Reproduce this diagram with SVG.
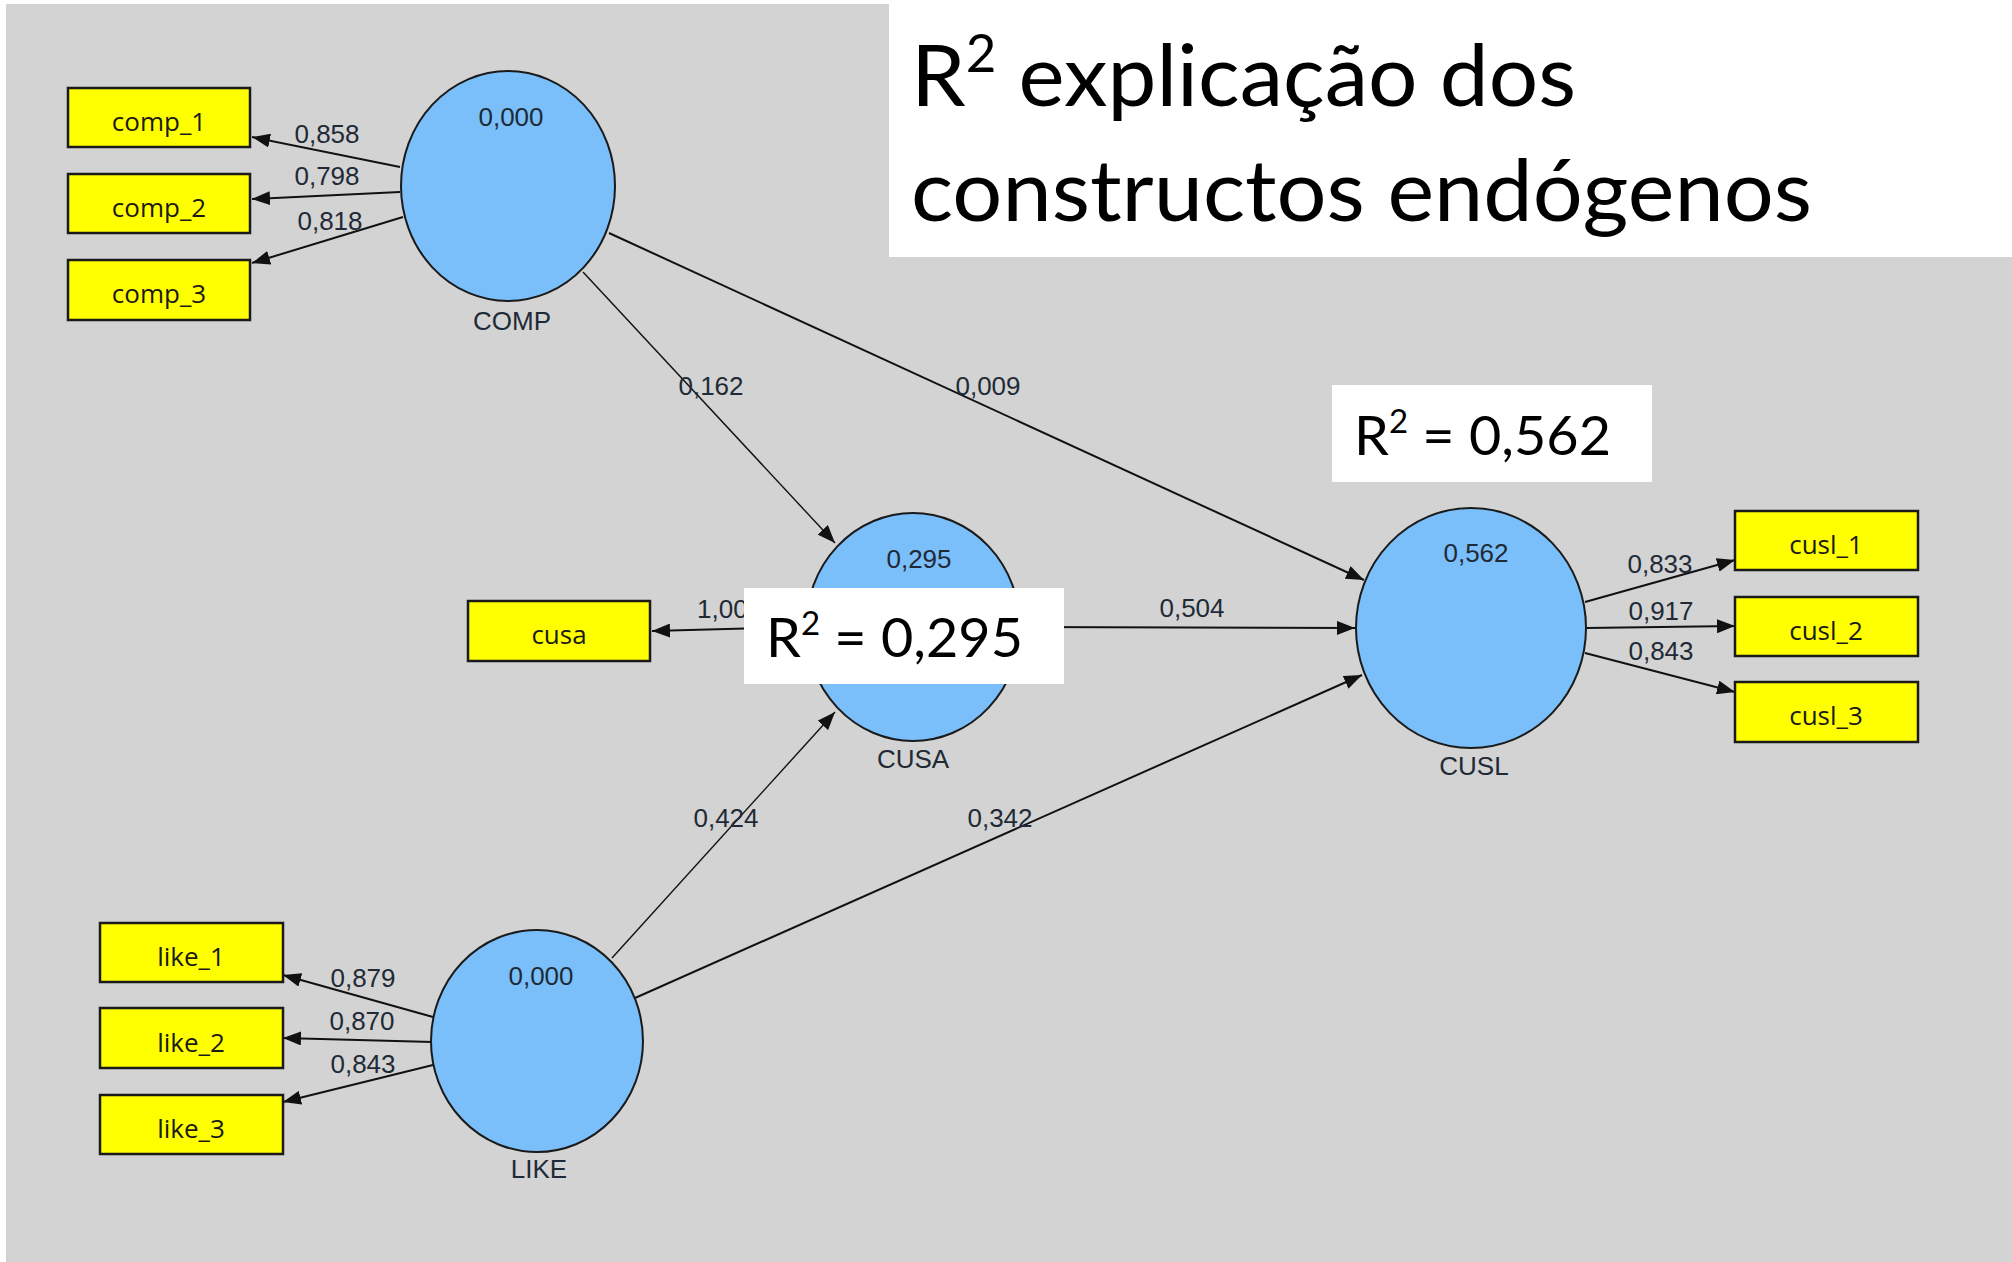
<svg xmlns="http://www.w3.org/2000/svg" width="2012" height="1262" viewBox="0 0 2012 1262">
<defs>
<marker id="ah" markerUnits="userSpaceOnUse" markerWidth="20" markerHeight="14" refX="18" refY="7" orient="auto">
<path d="M0,0 L18,7 L0,14 Z" fill="#111"/>
</marker>
<style>
.lat{fill:#7abffa;stroke:#1a1a1a;stroke-width:2}
.ind{fill:#ffff00;stroke:#1a1a1a;stroke-width:2.5}
.itx{font-family:"Open Sans","Noto Sans",sans-serif;font-size:26px;fill:#1a1a1a;text-anchor:middle}
.num{font-family:"Liberation Sans",Arial,sans-serif;font-size:26px;fill:#1f2a36;text-anchor:middle}
.lbl{font-family:"Liberation Sans",Arial,sans-serif;font-size:26px;fill:#1f2a36;text-anchor:middle}
.c{stroke:#111;stroke-width:2;fill:none;marker-end:url(#ah)}
.thin{stroke-width:1.4}
.r2{font-family:Lato,"Open Sans",sans-serif;fill:#000}
</style>
</defs>
<rect x="0" y="0" width="2012" height="1262" fill="#ffffff"/>
<rect x="6" y="4" width="2006" height="1258" fill="#d3d3d3"/>

<g id="connectors">
<line class="c" x1="400" y1="167" x2="252" y2="137"/>
<line class="c" x1="400" y1="192" x2="252" y2="199"/>
<line class="c" x1="403" y1="217" x2="252" y2="263"/>
<line class="c thin" x1="583" y1="272" x2="835" y2="543"/>
<line class="c" x1="609" y1="233" x2="1364" y2="580"/>
<line class="c" x1="806" y1="627" x2="652" y2="631"/>
<line class="c" x1="1020" y1="627" x2="1355" y2="628"/>
<line class="c thin" x1="612" y1="958" x2="835" y2="712"/>
<line class="c" x1="635" y1="998" x2="1362" y2="675"/>
<line class="c" x1="1585" y1="602" x2="1735" y2="560"/>
<line class="c" x1="1586" y1="628" x2="1735" y2="626"/>
<line class="c" x1="1585" y1="653" x2="1735" y2="692"/>
<line class="c" x1="433" y1="1017" x2="283" y2="975"/>
<line class="c" x1="433" y1="1042" x2="283" y2="1038"/>
<line class="c" x1="433" y1="1065" x2="283" y2="1102"/>
<text class="lbl" x="327" y="143">0,858</text>
<text class="lbl" x="327" y="185">0,798</text>
<text class="lbl" x="330" y="230">0,818</text>
<text class="lbl" x="711" y="395">0,162</text>
<text class="lbl" x="988" y="395">0,009</text>
<text class="lbl" x="1192" y="617">0,504</text>
<text class="lbl" x="726" y="827">0,424</text>
<text class="lbl" x="1000" y="827">0,342</text>
<text class="lbl" x="1660" y="573">0,833</text>
<text class="lbl" x="1661" y="620">0,917</text>
<text class="lbl" x="1661" y="660">0,843</text>
<text class="lbl" x="363" y="987">0,879</text>
<text class="lbl" x="362" y="1030">0,870</text>
<text class="lbl" x="363" y="1073">0,843</text>
<text class="lbl" x="697" y="618" style="text-anchor:start">1,00</text>
</g>

<g id="comp_1"><rect class="ind" x="68" y="88" width="182" height="59"/><text class="itx" x="159" y="131">comp_1</text></g>
<g id="comp_2"><rect class="ind" x="68" y="174" width="182" height="59"/><text class="itx" x="159" y="217">comp_2</text></g>
<g id="comp_3"><rect class="ind" x="68" y="260" width="182" height="60"/><text class="itx" x="159" y="303">comp_3</text></g>
<g id="cusa"><rect class="ind" x="468" y="601" width="182" height="60"/><text class="itx" x="559" y="644">cusa</text></g>
<g id="cusl_1"><rect class="ind" x="1735" y="511" width="183" height="59"/><text class="itx" x="1826" y="554">cusl_1</text></g>
<g id="cusl_2"><rect class="ind" x="1735" y="597" width="183" height="59"/><text class="itx" x="1826" y="640">cusl_2</text></g>
<g id="cusl_3"><rect class="ind" x="1735" y="682" width="183" height="60"/><text class="itx" x="1826" y="725">cusl_3</text></g>
<g id="like_1"><rect class="ind" x="100" y="923" width="183" height="59"/><text class="itx" x="191" y="966">like_1</text></g>
<g id="like_2"><rect class="ind" x="100" y="1008" width="183" height="60"/><text class="itx" x="191" y="1052">like_2</text></g>
<g id="like_3"><rect class="ind" x="100" y="1095" width="183" height="59"/><text class="itx" x="191" y="1138">like_3</text></g>

<g id="COMP"><ellipse class="lat" cx="508" cy="186" rx="107" ry="115"/><text class="num" x="511" y="126">0,000</text><text class="lbl" x="512" y="330">COMP</text></g>
<g id="CUSA"><ellipse class="lat" cx="913" cy="627" rx="107" ry="114"/><text class="num" x="919" y="568">0,295</text><text class="lbl" x="913" y="768">CUSA</text></g>
<g id="CUSL"><ellipse class="lat" cx="1471" cy="628" rx="115" ry="120"/><text class="num" x="1476" y="562">0,562</text><text class="lbl" x="1474" y="775">CUSL</text></g>
<g id="LIKE"><ellipse class="lat" cx="537" cy="1041" rx="106" ry="111"/><text class="num" x="541" y="985">0,000</text><text class="lbl" x="539" y="1178">LIKE</text></g>

<g id="r2_cusa"><rect x="744" y="588" width="320" height="96" fill="#fff"/><text class="r2" x="766" y="657" font-size="54" textLength="257" lengthAdjust="spacingAndGlyphs">R<tspan font-size="32" dy="-22">2</tspan><tspan dy="22"> = 0,295</tspan></text></g>
<g id="r2_cusl"><rect x="1332" y="385" width="320" height="97" fill="#fff"/><text class="r2" x="1354" y="455" font-size="54" textLength="257" lengthAdjust="spacingAndGlyphs">R<tspan font-size="32" dy="-22">2</tspan><tspan dy="22"> = 0,562</tspan></text></g>
<g id="title"><rect x="889" y="4" width="1123" height="253" fill="#fff"/>
<text class="r2" x="911" y="106" font-size="86" textLength="665" lengthAdjust="spacingAndGlyphs">R<tspan font-size="52" dy="-34">2</tspan><tspan dy="34"> explicação dos</tspan></text>
<text class="r2" x="911" y="221" font-size="86" textLength="901" lengthAdjust="spacingAndGlyphs">constructos endógenos</text>
</g>
</svg>
